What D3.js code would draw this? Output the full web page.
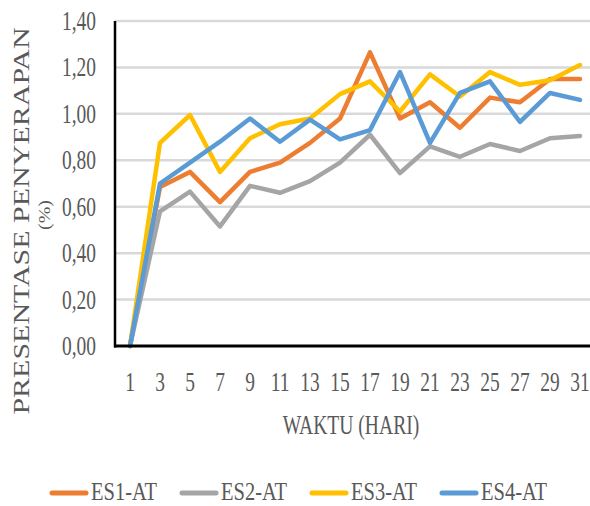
<!DOCTYPE html>
<html><head><meta charset="utf-8">
<script src="https://cdn.jsdelivr.net/npm/d3@7"></script>
<style>html,body{margin:0;padding:0;background:#fff;}svg{display:block;}</style>
</head><body>
<svg id="c" width="590" height="506"></svg>
<script>
const days = ["1","3","5","7","9","11","13","15","17","19","21","23","25","27","29","31"];
const es1 = [0,0.685,0.75,0.62,0.75,0.79,0.875,0.98,1.265,0.98,1.05,0.94,1.07,1.05,1.15,1.15];
const es2 = [0,0.58,0.665,0.515,0.69,0.66,0.71,0.79,0.91,0.745,0.86,0.815,0.87,0.84,0.895,0.905];
const es3 = [0,0.875,0.995,0.75,0.895,0.955,0.98,1.085,1.14,1.01,1.17,1.075,1.18,1.125,1.145,1.21];
const es4 = [0,0.70,0.79,0.88,0.98,0.88,0.975,0.89,0.93,1.18,0.875,1.09,1.14,0.965,1.09,1.06];
const seriesNames = ["ES1-AT","ES2-AT","ES3-AT","ES4-AT"];
const seriesColors = ["#ED7D31","#A5A5A5","#FFC000","#5B9BD5"];
const yTicks = [0,0.2,0.4,0.6,0.8,1.0,1.2,1.4];
const seriesData = [es1,es2,es3,es4];

(function(){
const svg = d3.select("#c");
const textColor = "#595959";
const font = "Liberation Serif, Times New Roman, serif";
const pLeft = 115, pTop = 21, pBottom = 346;
const x = d3.scaleBand().domain(days).range([pLeft, pLeft + 16*30]).paddingInner(0).paddingOuter(0);
const y = d3.scaleLinear().domain([0,1.4]).range([pBottom, pTop]);
const fmt = v => v.toFixed(2).replace(".", ",");

svg.append("g").selectAll("line").data(yTicks.filter(t=>t>0)).join("line")
  .attr("x1", pLeft).attr("x2", 590)
  .attr("y1", d=>y(d)).attr("y2", d=>y(d))
  .attr("stroke", "#D9D9D9").attr("stroke-width", 2.5);

svg.append("g").selectAll("text").data(yTicks).join("text")
  .attr("transform", d=>`translate(96,${y(d)+9}) scale(0.72,1)`)
  .attr("text-anchor","end").attr("font-family",font).attr("font-size",27)
  .attr("fill",textColor).text(fmt);

svg.append("g").selectAll("text").data(days).join("text")
  .attr("transform", d=>`translate(${x(d)+x.bandwidth()/2},391) scale(0.72,1)`)
  .attr("text-anchor","middle").attr("font-family",font).attr("font-size",27)
  .attr("fill",textColor).text(d=>d);

const line = d3.line().x((d,i)=>x(days[i])+x.bandwidth()/2).y(d=>y(d));
seriesData.forEach((s,k)=>{
  svg.append("path").datum(s).attr("d",line).attr("fill","none")
    .attr("stroke",seriesColors[k]).attr("stroke-width",4.5)
    .attr("stroke-linejoin","round").attr("stroke-linecap","round");
});

svg.append("line").attr("x1",pLeft).attr("x2",pLeft).attr("y1",pTop).attr("y2",pBottom+1.5)
  .attr("stroke","#000").attr("stroke-width",2.5);
svg.append("line").attr("x1",pLeft-1).attr("x2",590).attr("y1",pBottom).attr("y2",pBottom)
  .attr("stroke","#000").attr("stroke-width",3);

svg.append("text").attr("transform","translate(351,434) scale(0.7,1)")
  .attr("text-anchor","middle").attr("font-family",font).attr("font-size",28)
  .attr("fill",textColor).text("WAKTU (HARI)");
svg.append("text").attr("transform","translate(29,221) rotate(-90) scale(1,0.8)")
  .attr("text-anchor","middle").attr("font-family",font).attr("font-size",30)
  .attr("fill",textColor).text("PRESENTASE PENYERAPAN");
svg.append("text").attr("transform","translate(50,215) rotate(-90) scale(1,0.8)")
  .attr("text-anchor","middle").attr("font-family",font).attr("font-size",20)
  .attr("fill",textColor).text("(%)");

const legX = [52,182,312,442];
const lg = svg.append("g").selectAll("g").data(seriesNames).join("g")
  .attr("transform",(d,i)=>`translate(${legX[i]},493)`);
lg.append("line").attr("x1",0).attr("x2",34).attr("y1",0).attr("y2",0)
  .attr("stroke",(d,i)=>seriesColors[i]).attr("stroke-width",5).attr("stroke-linecap","round");
lg.append("text").attr("x",39).attr("y",7)
  .attr("textLength",66).attr("lengthAdjust","spacingAndGlyphs")
  .attr("font-family",font).attr("font-size",25).attr("fill",textColor).text(d=>d);
})();
</script>
</body></html>
